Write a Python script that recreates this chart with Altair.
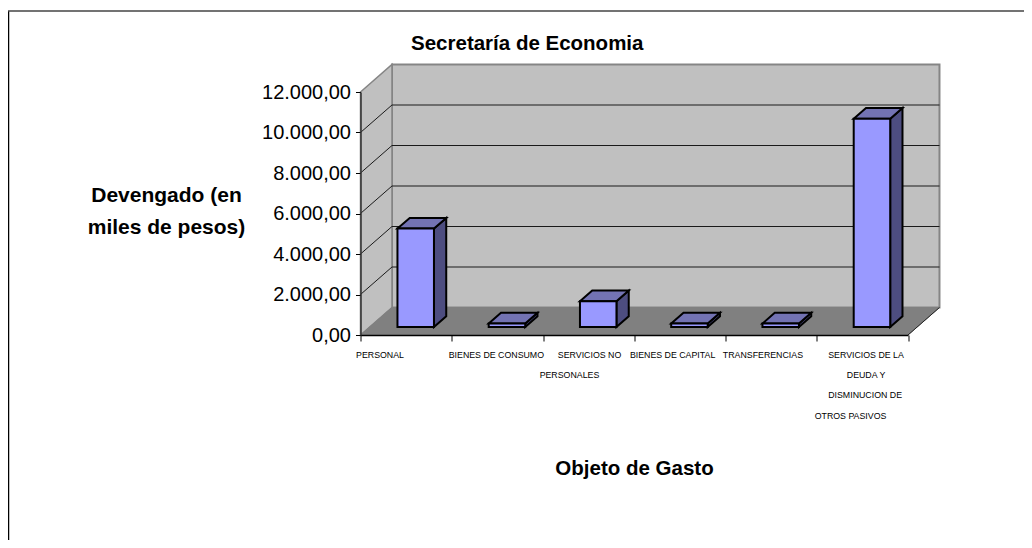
import altair as alt
import pandas as pd

# --- chart values ---
categories = ["PERSONAL", "BIENES DE CONSUMO", "SERVICIOS NO PERSONALES",
              "BIENES DE CAPITAL", "TRANSFERENCIAS",
              "SERVICIOS DE LA DEUDA Y DISMINUCION DE OTROS PASIVOS"]
devengado = [4860, 170, 1270, 170, 170, 10290]
y_ticks = [0, 2000, 4000, 6000, 8000, 10000, 12000]
x_ticks = [0, 1, 2, 3, 4, 5, 6]
label_lines = ["PERSONAL", "BIENES DE CONSUMO", "SERVICIOS NO", "PERSONALES",
               "BIENES DE CAPITAL", "TRANSFERENCIAS", "SERVICIOS DE LA",
               "DEUDA Y", "DISMINUCION DE", "OTROS PASIVOS"]
label_centre = [0.214, 1.489, 2.510, 2.29, 3.42, 4.41, 5.54, 5.54, 5.53, 5.37]
label_row = [0, 0, 0, 1, 0, 0, 0, 1, 2, 3]

# --- oblique projection of the 3D box, in data units ---
DX = 0.345     # depth in category units
DY = 1358      # depth in value units
BAR_GAP = 0.305
BAR_W = 0.40
D_FRONT = 0.29
D_BACK = 0.68
xs = alt.Scale(domain=[0, 6], nice=False, zero=False)
ys = alt.Scale(domain=[0, 12000], nice=False, zero=False)
FONT = "Liberation Sans"


def X(f="x", **k):
    return alt.X(f"{f}:Q", scale=xs, **k)


def Y(f="y", **k):
    return alt.Y(f"{f}:Q", scale=ys, **k)


eu_format = ("replace(replace(replace(format(datum.value, ',.2f'), ',', '#'), '.', ','), '#', '.')")
layers = []

# real axes, carried by an otherwise invisible first layer
layers.append(alt.Chart(pd.DataFrame({"x": [0], "y": [0]})).mark_point(opacity=0).encode(
    x=alt.X("x:Q", scale=xs, axis=alt.Axis(
        values=x_ticks, labels=False, grid=False, domainColor="#000000", domainWidth=1.5,
        tickColor="#000000", tickSize=6, tickWidth=1, zindex=2,
        title="Objeto de Gasto", titleFont=FONT, titleFontSize=20.5, titleFontWeight="bold",
        titleColor="#000000", titleX=273.5, titleY=133, titleBaseline="middle")),
    y=alt.Y("y:Q", scale=ys, axis=alt.Axis(
        values=y_ticks, grid=False, domainColor="#333333", domainWidth=1.5,
        tickColor="#000000", tickSize=5, tickWidth=1, zindex=2,
        labelExpr=eu_format, labelFont=FONT, labelFontSize=20, labelColor="#000000", labelPadding=5,
        title=["Devengado (en", "miles de pesos)"], titleFont=FONT, titleFontSize=21,
        titleFontWeight="bold", titleColor="#000000", titleAngle=0, titleAlign="center",
        titleBaseline="middle", titleX=-194.5, titleY=103, titleLineHeight=32)),
))

# walls and floor
left_wall = pd.DataFrame({"x": [0, DX], "y": [12000, 12000 + DY], "y2": [0, DY]})
floor = pd.DataFrame({"y": [0, DY], "x": [0, DX], "x2": [6, 6 + DX]})
back_wall = pd.DataFrame({"x": [DX], "x2": [6 + DX], "y": [DY], "y2": [12000 + DY]})

layers.append(alt.Chart(back_wall).mark_rect(fill="#c0c0c0", stroke="#858585", strokeWidth=2)
              .encode(x=X(), x2="x2:Q", y=Y(), y2="y2:Q"))
layers.append(alt.Chart(left_wall).mark_area(fill="#c0c0c0", stroke="#858585", strokeWidth=1.5)
              .encode(x=X(), y=Y(), y2="y2:Q"))
layers.append(alt.Chart(floor).mark_area(orient="horizontal", fill="#808080", stroke="#808080", strokeWidth=1)
              .encode(y=Y(), x=X(), x2="x2:Q"))

# gridlines on the back wall and on the left wall
grid_vals = y_ticks[1:-1]
back_grid = pd.DataFrame({"x": [DX] * len(grid_vals), "x2": [6 + DX] * len(grid_vals),
                          "y": [v + DY for v in grid_vals]})
layers.append(alt.Chart(back_grid).mark_rule(color="#1a1a1a", strokeWidth=1)
              .encode(x=X(), x2="x2:Q", y=Y()))
side_rows = []
for v in grid_vals:
    side_rows += [{"g": v, "x": 0, "y": v}, {"g": v, "x": DX, "y": v + DY}]
layers.append(alt.Chart(pd.DataFrame(side_rows)).mark_line(color="#1a1a1a", strokeWidth=1)
              .encode(x=X(), y=Y(), detail="g:N"))
# right floor edge
edge = pd.DataFrame({"x": [6, 6 + DX], "y": [0, DY]})
layers.append(alt.Chart(edge).mark_line(color="#222222", strokeWidth=1).encode(x=X(), y=Y()))

# bars: front, side and top faces
front, side, top = [], [], []
for i, v in enumerate(devengado):
    x0 = i + BAR_GAP + D_FRONT * DX
    x1 = x0 + BAR_W
    shift_x = (D_BACK - D_FRONT) * DX
    y0 = D_FRONT * DY
    shift_y = (D_BACK - D_FRONT) * DY
    front.append({"c": categories[i], "x": x0, "x2": x1, "y": y0, "y2": y0 + v})
    side += [{"c": categories[i], "x": x1, "y": y0, "y2": y0 + v},
             {"c": categories[i], "x": x1 + shift_x, "y": y0 + shift_y, "y2": y0 + v + shift_y}]
    top += [{"c": categories[i], "y": y0 + v, "x": x0, "x2": x1},
            {"c": categories[i], "y": y0 + v + shift_y, "x": x0 + shift_x, "x2": x1 + shift_x}]
bar_stroke = dict(stroke="#000000", strokeWidth=2)
layers.append(alt.Chart(pd.DataFrame(side)).mark_area(fill="#4d4d80", **bar_stroke)
              .encode(x=X(), y=Y(), y2="y2:Q", detail="c:N"))
layers.append(alt.Chart(pd.DataFrame(top)).mark_area(orient="horizontal", fill="#7373b3", **bar_stroke)
              .encode(y=Y(), x=X(), x2="x2:Q", detail="c:N"))
layers.append(alt.Chart(pd.DataFrame(front)).mark_rect(fill="#9999ff", **bar_stroke)
              .encode(x=X(), x2="x2:Q", y=Y(), y2="y2:Q"))

# category labels (lines placed below the axis)
labels = pd.DataFrame({"t": label_lines, "x": label_centre,
                       "y": [-(988 + 997 * r) for r in label_row]})
layers.append(alt.Chart(labels).mark_text(font=FONT, fontSize=8.8, color="#000000", align="center", baseline="middle")
              .encode(x=X(), y=Y(), text="t:N"))

# outer frame of the picture
PLOT_L, PLOT_T, PLOT_W, PLOT_H = 352.5, 84, 547.5, 243
TOTAL_W, TOTAL_H = 1016, 532
layers.append(alt.Chart(pd.DataFrame({"k": [0]})).mark_rule(color="#000000", strokeWidth=1.5).encode(
    x=alt.value(-PLOT_L + 0.5), y=alt.value(-PLOT_T + 3), y2=alt.value(TOTAL_H - PLOT_T)))
layers.append(alt.Chart(pd.DataFrame({"k": [0]})).mark_rule(color="#444444", strokeWidth=1.5).encode(
    x=alt.value(-PLOT_L), x2=alt.value(TOTAL_W - PLOT_L), y=alt.value(-PLOT_T + 3)))

chart = alt.layer(*layers).properties(
    width=PLOT_W, height=PLOT_H,
    title=alt.TitleParams("Secretaría de Economia", font=FONT, fontSize=20.5, fontWeight="bold",
                          color="#000000", anchor="middle", dx=-107, offset=0, dy=44.5),
    padding={"left": PLOT_L, "top": PLOT_T, "right": TOTAL_W - PLOT_L - PLOT_W,
             "bottom": TOTAL_H - PLOT_T - PLOT_H},
    autosize=alt.AutoSizeParams(type="none"),
    background="#ffffff",
).configure_view(stroke=None)

chart.save("out.html", embed_options={"renderer": "svg", "actions": False})
